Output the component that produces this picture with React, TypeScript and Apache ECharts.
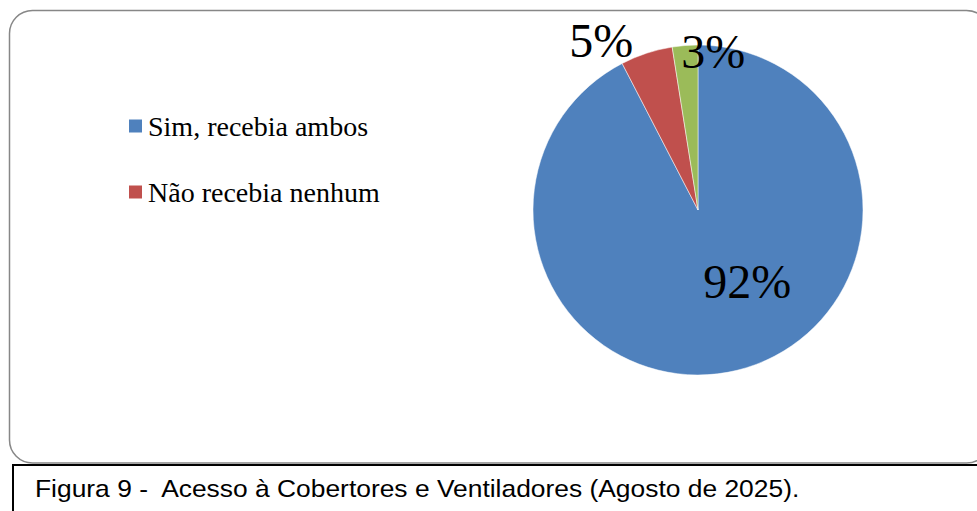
import React, { useEffect, useRef } from "react";
import * as echarts from "echarts";

const categories = ["Sim, recebia ambos", "Não recebia nenhum", "Recebia apenas um"];
const values = [92.4, 5.1, 2.5];
const colors = ["#4F81BD", "#C0504D", "#9BBB59"];
const legendNames = ["Sim, recebia ambos", "Não recebia nenhum"];
const labelOffsets: number[][] = [[29, -12], [-70, -88], [22, -73]];
const caption = "Figura 9 -  Acesso à Cobertores e Ventiladores (Agosto de 2025).";

export default function App() {
  const ref = useRef<HTMLDivElement>(null);
  useEffect(() => {
    if (!ref.current) return;
    const chart = echarts.init(ref.current, null, { renderer: "svg" });
    chart.setOption({
      animation: false,
      backgroundColor: "#ffffff",
      legend: {
        data: legendNames,
        orient: "vertical",
        left: 127,
        top: 112,
        padding: 0,
        icon: "rect",
        itemWidth: 15,
        itemHeight: 15,
        itemGap: 38,
        textStyle: { fontFamily: "Liberation Serif", fontSize: 28, color: "#000" },
        selectedMode: false,
      },
      graphic: [
        {
          type: "rect",
          shape: { x: 9.5, y: 10.5, width: 980, height: 452.5, r: 23 },
          style: { fill: "none", stroke: "#878787", lineWidth: 1.5 },
          silent: true,
        },
        {
          type: "rect",
          shape: { x: 13, y: 465, width: 990, height: 60 },
          style: { fill: "#fff", stroke: "#000", lineWidth: 2 },
          silent: true,
        },
        {
          type: "text",
          x: 35,
          y: 500,
          scaleX: 1.1,
          style: {
            text: caption,
            fontFamily: "Liberation Sans",
            fontSize: 24,
            fill: "#000",
            textVerticalAlign: "bottom",
            verticalAlign: "alphabetic",
          },
          silent: true,
        },
      ],
      series: [
        {
          type: "pie",
          center: [698, 210],
          radius: [0, 165],
          startAngle: 90,
          clockwise: true,
          avoidLabelOverlap: false,
          labelLine: { show: false },
          itemStyle: { borderColor: "#ffffff", borderWidth: 0.5 },
          label: {
            show: true,
            position: "inside",
            fontFamily: "Liberation Serif",
            fontSize: 48,
            color: "#000",
            formatter: (p: any) => Math.round(p.percent) + "%",
          },
          data: categories.map((name, i) => ({
            name,
            value: values[i],
            itemStyle: { color: colors[i] },
            label: { offset: labelOffsets[i] },
          })),
        },
      ],
    });
    return () => chart.dispose();
  }, []);
  return (
    <div
      ref={ref}
      style={{ position: "fixed", left: 0, top: 0, width: 977, height: 511 }}
    />
  );
}
